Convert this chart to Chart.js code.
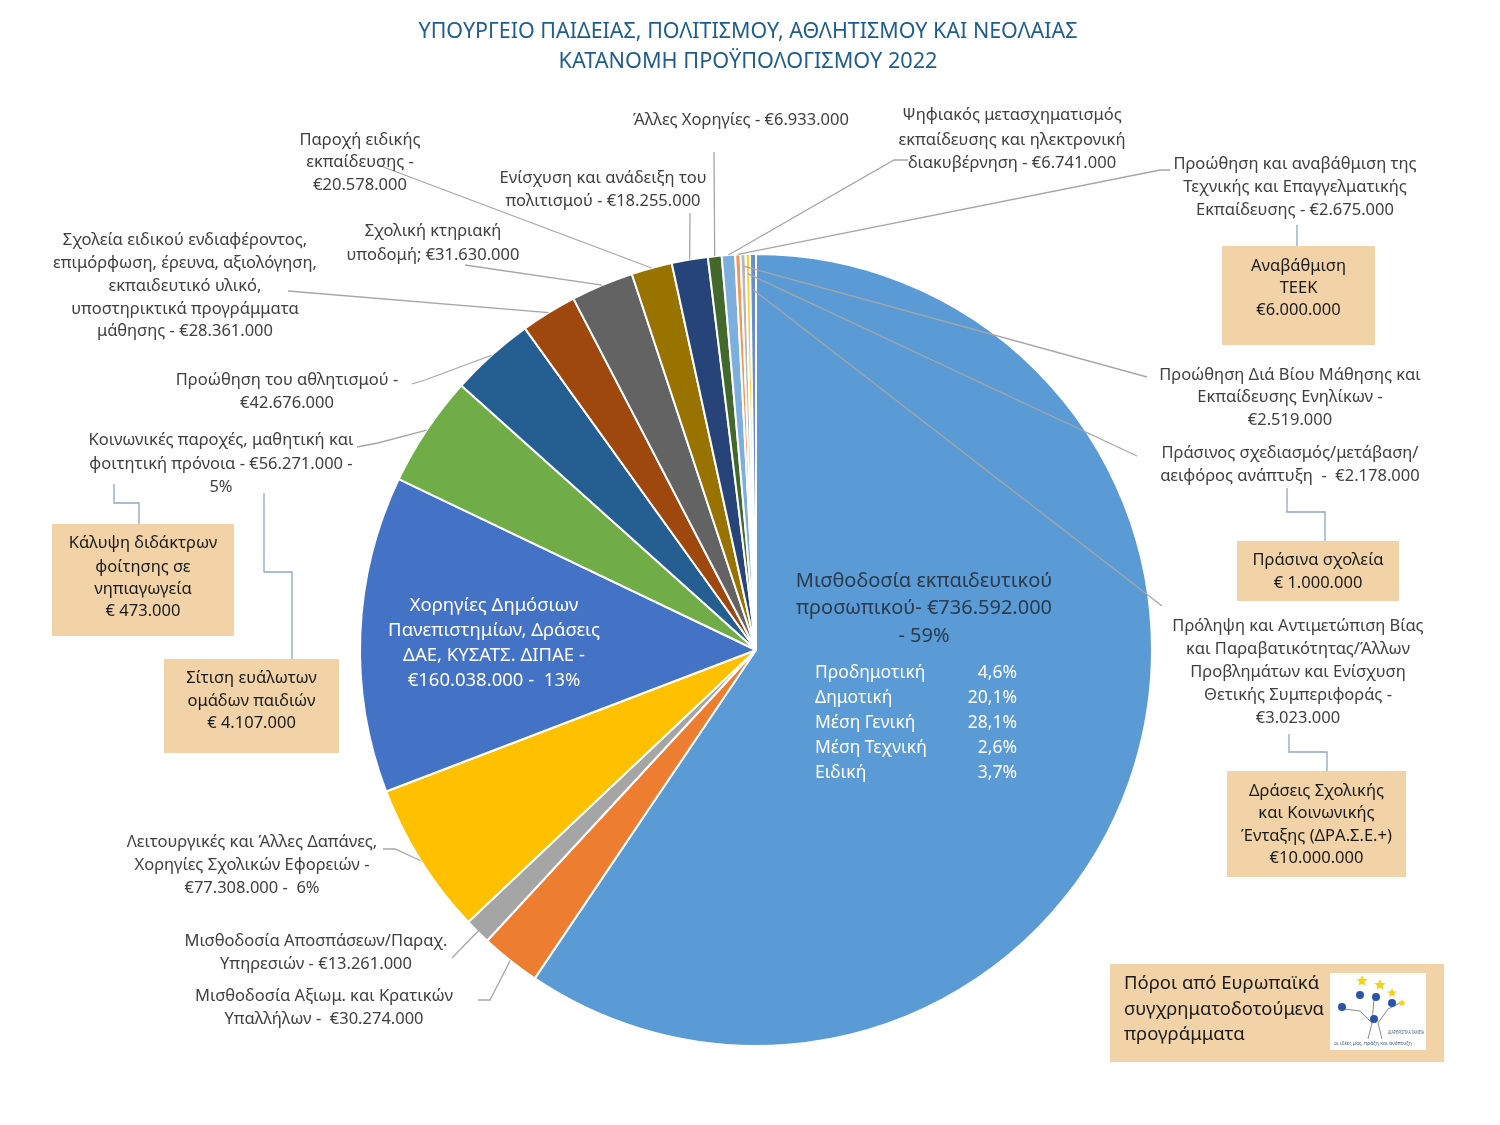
<!DOCTYPE html>
<html>
<head>
<meta charset="utf-8">
<script src="https://cdn.jsdelivr.net/npm/chart.js@4/dist/chart.umd.min.js"></script>
<style>
  body { margin: 0; background: #fff; }
</style>
</head>
<body>
<canvas id="budget" width="1500" height="1125"></canvas>
<script>
// budget lines, clockwise from 12 o'clock
const categories = [
  'Μισθοδοσία εκπαιδευτικού προσωπικού',
  'Μισθοδοσία Αξιωμ. και Κρατικών Υπαλλήλων',
  'Μισθοδοσία Αποσπάσεων/Παραχ. Υπηρεσιών',
  'Λειτουργικές και Άλλες Δαπάνες, Χορηγίες Σχολικών Εφορειών',
  'Χορηγίες Δημόσιων Πανεπιστημίων, Δράσεις ΔΑΕ, ΚΥΣΑΤΣ. ΔΙΠΑΕ',
  'Κοινωνικές παροχές, μαθητική και φοιτητική πρόνοια',
  'Προώθηση του αθλητισμού',
  'Σχολεία ειδικού ενδιαφέροντος, επιμόρφωση, έρευνα, αξιολόγηση',
  'Σχολική κτηριακή υποδομή',
  'Παροχή ειδικής εκπαίδευσης',
  'Ενίσχυση και ανάδειξη του πολιτισμού',
  'Άλλες Χορηγίες',
  'Ψηφιακός μετασχηματισμός εκπαίδευσης και ηλεκτρονική διακυβέρνηση',
  'Προώθηση και αναβάθμιση της Τεχνικής και Επαγγελματικής Εκπαίδευσης',
  'Προώθηση Διά Βίου Μάθησης και Εκπαίδευσης Ενηλίκων',
  'Πράσινος σχεδιασμός/μετάβαση/αειφόρος ανάπτυξη',
  'Πρόληψη και Αντιμετώπιση Βίας και Παραβατικότητας'
]
const values = [736592000, 30274000, 13261000, 77308000, 160038000, 56271000, 42676000,
  28361000, 31630000, 20578000, 18255000, 6933000, 6741000, 2675000, 2519000, 2178000, 3023000]
const colors = ['#5B9BD5', '#ED7D31', '#A5A5A5', '#FFC000', '#4472C4', '#70AD47', '#255E91',
  '#9E480E', '#636363', '#997300', '#264478', '#43682B', '#7CAFDD', '#F1975A', '#B7B7B7', '#FFCD33', '#698ED0']

// breakdown shown inside the big slice
const levels = ['Προδημοτική', 'Δημοτική', 'Μέση Γενική', 'Μέση Τεχνική', 'Ειδική']
const levelShares = [4.6, 20.1, 28.1, 2.6, 3.7]

const FONT = '"Noto Sans", "DejaVu Sans", sans-serif'

const euro = v => '€' + v.toLocaleString('de-DE')

// outside labels: {v} is replaced by the slice value
// path = leader start points, last point is taken from the slice arc
const outside = [
  { i: 1, x: 324, y: [996, 1019], lines: ['Μισθοδοσία Αξιωμ. και Κρατικών', 'Υπαλλήλων -  {v}'], path: [[478, 1000], [490, 1000]], f: 1 },
  { i: 2, x: 316, y: [941, 964], lines: ['Μισθοδοσία Αποσπάσεων/Παραχ.', 'Υπηρεσιών - {v}'], path: [[452, 958]], f: 0.96 },
  { i: 3, x: 252, y: [842, 865, 888], lines: ['Λειτουργικές και Άλλες Δαπάνες,', 'Χορηγίες Σχολικών Εφορειών -', '{v} -  6%'], path: [[383, 849], [395, 849]], f: 1 },
  { i: 5, x: 221, y: [440, 464, 487], lines: ['Κοινωνικές παροχές, μαθητική και', 'φοιτητική πρόνοια - {v} -', '5%'], path: [[357, 447], [378, 443]], f: 1 },
  { i: 6, x: 287, y: [380, 403], lines: ['Προώθηση του αθλητισμού -', '{v}'], path: [[412, 384], [425, 380]], f: 1 },
  { i: 7, x: 185, y: [240, 263, 286, 309, 331], lines: ['Σχολεία ειδικού ενδιαφέροντος,', 'επιμόρφωση, έρευνα, αξιολόγηση,', 'εκπαιδευτικό υλικό,', 'υποστηρικτικά προγράμματα', 'μάθησης - {v}'], path: [[288, 291]], f: 1 },
  { i: 8, x: 433, y: [231, 255], lines: ['Σχολική κτηριακή', 'υποδομή; {v}'], path: [[465, 265]], f: 1 },
  { i: 9, x: 360, y: [140, 162, 185], lines: ['Παροχή ειδικής', 'εκπαίδευσης -', '{v}'], path: [[378, 165]], f: 1 },
  { i: 10, x: 603, y: [178, 201], lines: ['Ενίσχυση και ανάδειξη του', 'πολιτισμού - {v}'], path: [[690, 213]], f: 1 },
  { i: 11, x: 741, y: [120], lines: ['Άλλες Χορηγίες - {v}'], path: [[714, 152]], f: 1 },
  { i: 12, x: 1012, y: [115, 140, 163], lines: ['Ψηφιακός μετασχηματισμός', 'εκπαίδευσης και ηλεκτρονική', 'διακυβέρνηση - {v}'], path: [[908, 160], [894, 160]], f: 1 },
  { i: 13, x: 1295, y: [164, 187, 210], lines: ['Προώθηση και αναβάθμιση της', 'Τεχνικής και Επαγγελματικής', 'Εκπαίδευσης - {v}'], path: [[1170, 170], [1160, 170]], f: 1 },
  { i: 14, x: 1290, y: [375, 397, 420], lines: ['Προώθηση Διά Βίου Μάθησης και', 'Εκπαίδευσης Ενηλίκων -', '{v}'], path: [[1147, 377]], f: 0.97 },
  { i: 15, x: 1290, y: [453, 476], lines: ['Πράσινος σχεδιασμός/μετάβαση/', 'αειφόρος ανάπτυξη  -  {v}'], path: [[1137, 456]], f: 0.95 },
  { i: 16, x: 1298, y: [626, 649, 672, 695, 718], lines: ['Πρόληψη και Αντιμετώπιση Βίας', 'και Παραβατικότητας/Άλλων', 'Προβλημάτων και Ενίσχυση', 'Θετικής Συμπεριφοράς -', '{v}'], path: [[1162, 606]], f: 0.91 }
]

// tan boxes with sub-programmes
const boxes = [
  { x: 1222, y: 246, w: 153, h: 99, ys: [266, 288, 310], lines: ['Αναβάθμιση', 'ΤΕΕΚ', '€6.000.000'], link: [[1297, 225], [1297, 246]] },
  { x: 1237, y: 541, w: 162, h: 60, ys: [560, 583], lines: ['Πράσινα σχολεία', '€ 1.000.000'], link: [[1287, 488], [1287, 512], [1325, 512], [1325, 541]] },
  { x: 1227, y: 771, w: 179, h: 106, ys: [791, 813, 836, 858], lines: ['Δράσεις Σχολικής', 'και Κοινωνικής', 'Ένταξης (ΔΡΑ.Σ.Ε.+)', '€10.000.000'], link: [[1289, 734], [1289, 752], [1327, 752], [1327, 771]] },
  { x: 52, y: 524, w: 182, h: 112, ys: [543, 567, 589, 611], lines: ['Κάλυψη διδάκτρων', 'φοίτησης σε', 'νηπιαγωγεία', '€ 473.000'], link: [[114, 484], [114, 503], [139, 503], [139, 524]] },
  { x: 164, y: 659, w: 175, h: 94, ys: [678, 701, 723], lines: ['Σίτιση ευάλωτων', 'ομάδων παιδιών', '€ 4.107.000'], link: [[264, 493], [264, 572], [292, 572], [292, 659]] }
]

function polyline(ctx, pts) {
  ctx.beginPath()
  ctx.moveTo(pts[0][0], pts[0][1])
  for (let k = 1; k < pts.length; k++) ctx.lineTo(pts[k][0], pts[k][1])
  ctx.stroke()
}

function star(ctx, cx, cy, r) {
  ctx.beginPath()
  for (let k = 0; k < 10; k++) {
    const a = -Math.PI / 2 + k * Math.PI / 5
    const rr = k % 2 ? r * 0.45 : r
    ctx.lineTo(cx + Math.cos(a) * rr, cy + Math.sin(a) * rr)
  }
  ctx.closePath()
  ctx.fill()
}

function drawLogo(ctx, x, y) {
  ctx.fillStyle = '#fff'
  ctx.fillRect(x, y, 96, 77)
  ctx.strokeStyle = '#8a8a8a'
  ctx.lineWidth = 1
  polyline(ctx, [[x + 38, y + 66], [x + 42, y + 50], [x + 30, y + 38], [x + 14, y + 36]])
  polyline(ctx, [[x + 52, y + 66], [x + 48, y + 50], [x + 58, y + 36], [x + 70, y + 30]])
  polyline(ctx, [[x + 42, y + 50], [x + 44, y + 26]])
  ctx.fillStyle = '#2a54a6'
  ;[[x + 12, y + 34], [x + 30, y + 22], [x + 46, y + 24], [x + 62, y + 30], [x + 44, y + 46]].forEach(p => {
    ctx.beginPath(); ctx.arc(p[0], p[1], 4, 0, Math.PI * 2); ctx.fill()
  })
  ctx.fillStyle = '#f2d21b'
  ;[[x + 32, y + 8, 6], [x + 50, y + 12, 6], [x + 62, y + 20, 5], [x + 72, y + 30, 4]].forEach(p => star(ctx, p[0], p[1], p[2]))
  ctx.fillStyle = '#4b5f8a'
  ctx.font = '5px ' + FONT
  ctx.textAlign = 'left'
  ctx.fillText('ΔΙΑΡΘΡΩΤΙΚΑ ΤΑΜΕΙΑ', x + 58, y + 60, 36)
  ctx.fillText('οι ιδέες μας, πράξη και ανάπτυξη', x + 4, y + 71, 88)
}

const labelsPlugin = {
  id: 'budgetLabels',
  afterDraw(chart) {
    const ctx = chart.ctx
    const arcs = chart.getDatasetMeta(0).data
    ctx.save()
    ctx.textBaseline = 'middle'

    // title
    ctx.fillStyle = '#1f5d8c'
    ctx.textAlign = 'center'
    ctx.font = '22.5px ' + FONT
    ctx.fillText('ΥΠΟΥΡΓΕΙΟ ΠΑΙΔΕΙΑΣ, ΠΟΛΙΤΙΣΜΟΥ, ΑΘΛΗΤΙΣΜΟΥ ΚΑΙ ΝΕΟΛΑΙΑΣ', 748, 32, 659)
    ctx.fillText('ΚΑΤΑΝΟΜΗ ΠΡΟΫΠΟΛΟΓΙΣΜΟΥ 2022', 748, 62, 379)

    // leader lines + outside labels
    ctx.font = '16.5px ' + FONT
    outside.forEach(l => {
      const a = arcs[l.i].getProps(['x', 'y', 'startAngle', 'endAngle', 'outerRadius'], true)
      const mid = (a.startAngle + a.endAngle) / 2
      const end = [a.x + Math.cos(mid) * a.outerRadius * l.f, a.y + Math.sin(mid) * a.outerRadius * l.f]
      ctx.strokeStyle = '#a6a6a6'
      ctx.lineWidth = 1.3
      polyline(ctx, l.path.concat([end]))
      ctx.fillStyle = '#404040'
      l.lines.forEach((s, k) => ctx.fillText(s.replace('{v}', euro(values[l.i])), l.x, l.y[k]))
    })

    // boxes
    boxes.forEach(b => {
      ctx.strokeStyle = '#8ea6c4'
      ctx.lineWidth = 1.3
      polyline(ctx, b.link)
      ctx.fillStyle = '#f2d3a7'
      ctx.fillRect(b.x, b.y, b.w, b.h)
      ctx.fillStyle = '#1a1a1a'
      b.lines.forEach((s, k) => ctx.fillText(s, b.x + b.w / 2, b.ys[k], b.w - 6))
    })

    // EU co-funded note
    ctx.fillStyle = '#f2d3a7'
    ctx.fillRect(1110, 964, 334, 98)
    ctx.fillStyle = '#1a1a1a'
    ctx.textAlign = 'left'
    ctx.font = '18.5px ' + FONT
    ;['Πόροι από Ευρωπαϊκά', 'συγχρηματοδοτούμενα', 'προγράμματα'].forEach((s, k) => ctx.fillText(s, 1124, 984 + k * 25.5, 200))
    drawLogo(ctx, 1330, 973)

    // text inside the big slice
    ctx.textAlign = 'center'
    ctx.fillStyle = '#2a3b4d'
    ctx.font = '20px ' + FONT
    ctx.fillText('Μισθοδοσία εκπαιδευτικού', 924, 581)
    ctx.fillText('προσωπικού- ' + euro(values[0]), 924, 608, 262)
    ctx.fillText('- ' + Math.round(values[0] / values.reduce((s, v) => s + v, 0) * 100) + '%', 924, 636)
    ctx.fillStyle = '#fff'
    ctx.font = '17.5px ' + FONT
    levels.forEach((s, k) => {
      ctx.textAlign = 'left'
      ctx.fillText(s, 815, 673 + k * 25)
      ctx.textAlign = 'right'
      ctx.fillText(levelShares[k].toFixed(1).replace('.', ',') + '%', 1017, 673 + k * 25)
    })

    // text inside the university slice
    ctx.textAlign = 'center'
    ctx.font = '18.5px ' + FONT
    ;['Χορηγίες Δημόσιων', 'Πανεπιστημίων, Δράσεις', 'ΔΑΕ, ΚΥΣΑΤΣ. ΔΙΠΑΕ -', euro(values[4]) + ' -  13%']
      .forEach((s, k) => ctx.fillText(s, 494, 606 + k * 25))

    ctx.restore()
  }
}

new Chart(document.getElementById('budget'), {
  type: 'pie',
  data: {
    labels: categories,
    datasets: [{
      data: values,
      backgroundColor: colors,
      borderColor: '#ffffff',
      borderWidth: 2
    }]
  },
  options: {
    responsive: false,
    animation: false,
    devicePixelRatio: 1,
    layout: { padding: { left: 359, right: 347, top: 253, bottom: 78 } },
    plugins: {
      legend: { display: false },
      tooltip: { enabled: false }
    }
  },
  plugins: [labelsPlugin]
})
</script>
</body>
</html>
